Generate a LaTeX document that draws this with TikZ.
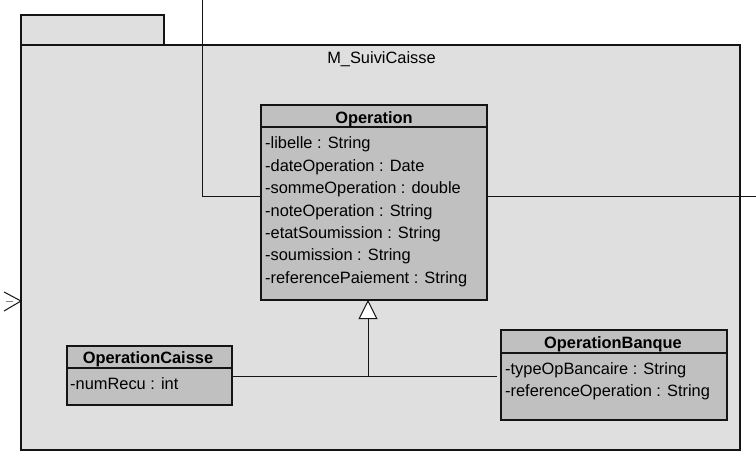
\documentclass[tikz,border=0pt]{standalone}
\usepackage{fontspec}
\setmainfont{Liberation Sans}
\usetikzlibrary{arrows.meta}
\definecolor{pkgfill}{RGB}{223,223,223}
\definecolor{clsfill}{RGB}{192,192,192}
\definecolor{edge}{RGB}{20,20,20}
\begin{document}
\begin{tikzpicture}[x=1pt,y=-1pt,
  box/.style={draw=edge,line width=1.3pt,rectangle,inner sep=0pt,outer sep=0pt},
  pkgbox/.style={box,fill=pkgfill},
  clsbox/.style={box,fill=clsfill},
  lbl/.style={inner sep=0pt,font=\fontsize{16.4}{20}\selectfont},
  ttl/.style={lbl,anchor=base,font=\fontsize{16.4}{20}\selectfont\bfseries},
  attr/.style={lbl,anchor=base west},
  conn/.style={draw=edge,line width=1pt},
  gen/.style={conn,-{Triangle[open,fill=white,width=19pt,length=19pt,line width=1pt]}}
]
\useasboundingbox (0,0) rectangle (756,468);
\fill[white] (0,0) rectangle (756,468);

% package
\node[pkgbox,minimum width=143pt,minimum height=30pt] (pkgtab) at (92.5,30) {};
\node[pkgbox,minimum width=719pt,minimum height=405pt] (pkg) at (380.5,247.5) {};
\node[lbl,anchor=base] (pkgname) at (381.5,63.3) {M\_SuiviCaisse};

% Operation
\node[clsbox,minimum width=226pt,minimum height=195pt] (op) at (374,202.5) {};
\draw[draw=edge,line width=1.3pt] (op.west |- 0,127) -- (op.east |- 0,127);
\node[ttl] (optitle) at (374,123.3) {Operation};
\node[attr] (opa1) at (265,149) {-libelle : String};
\node[attr] (opa2) at (265,171.4) {-dateOperation : Date};
\node[attr] (opa3) at (265,193.8) {-sommeOperation : double};
\node[attr] (opa4) at (265,216.2) {-noteOperation : String};
\node[attr] (opa5) at (265,238.6) {-etatSoumission : String};
\node[attr] (opa6) at (265,261) {-soumission : String};
\node[attr] (opa7) at (265,283.4) {-referencePaiement : String};

% OperationCaisse
\node[clsbox,minimum width=165pt,minimum height=59pt] (opc) at (149.5,375.5) {};
\draw[draw=edge,line width=1.3pt] (opc.west |- 0,368) -- (opc.east |- 0,368);
\node[ttl] (opctitle) at (148,363.3) {OperationCaisse};
\node[attr] (opca1) at (70,389) {-numRecu : int};

% OperationBanque
\node[clsbox,minimum width=226pt,minimum height=90pt] (opb) at (614,375) {};
\draw[draw=edge,line width=1.3pt] (opb.west |- 0,353) -- (opb.east |- 0,353);
\node[ttl] (opbtitle) at (613,348.3) {OperationBanque};
\node[attr] (opba1) at (505,374.3) {-typeOpBancaire : String};
\node[attr] (opba2) at (505,396.3) {-referenceOperation : String};

% connectors
\coordinate (topin) at (202,0);
\coordinate (rightout) at (756,197);
\draw[conn] (topin) |- (op.west |- rightout);
\draw[conn] (op.east |- rightout) -- (rightout);

\coordinate (junc) at (368,376);
\coordinate (bend) at (497,376);
\draw[conn] (opc.east |- junc) -- (bend);
\draw[gen] (junc) -- (junc |- op.south);

% incoming arrow on the left of the package
\coordinate (arrtip) at (pkg.west |- 0,301);
\draw[conn] ([shift={(-17,-9)}]arrtip) -- (arrtip) -- ([shift={(-17,10)}]arrtip);
\draw[draw=gray,line width=0.8pt] ([xshift=-15pt]arrtip) -- ([xshift=-8pt]arrtip);
\end{tikzpicture}
\end{document}
